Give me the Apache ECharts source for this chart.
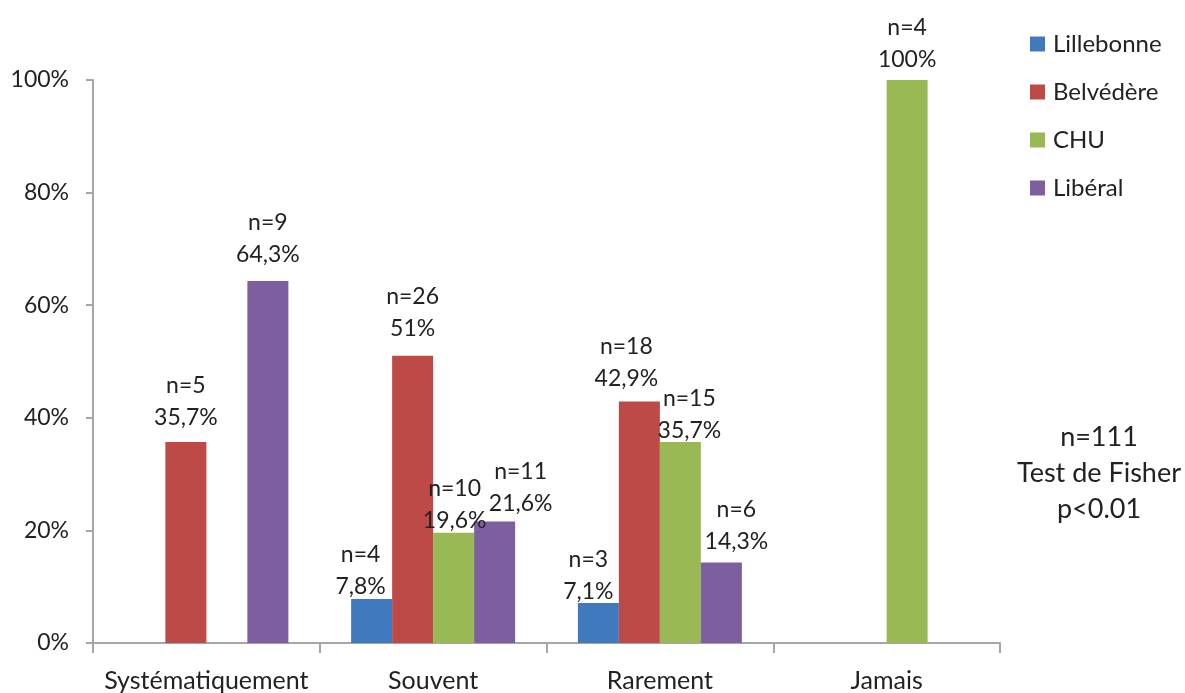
<!DOCTYPE html>
<html>
<head>
<meta charset="utf-8">
<script src="https://cdn.jsdelivr.net/npm/echarts@6/dist/echarts.min.js"></script>
<style>
html,body{margin:0;padding:0;background:#fff;}
#chart{width:1185px;height:693px;}
</style>
</head>
<body>
<div id="chart"></div>
<script>
const categories = ['Systématiquement', 'Souvent', 'Rarement', 'Jamais'];
const seriesNames = ['Lillebonne', 'Belvédère', 'CHU', 'Libéral'];
const pctLillebonne = [null, 7.8, 7.1, null];
const pctBelvedere = [35.7, 51, 42.9, null];
const pctCHU = [null, 19.6, 35.7, 100];
const pctLiberal = [64.3, 21.6, 14.3, null];
const nLillebonne = [null, 4, 3, null];
const nBelvedere = [5, 26, 18, null];
const nCHU = [null, 10, 15, 4];
const nLiberal = [9, 11, 6, null];
const yTicks = [0, 20, 40, 60, 80, 100];
const noteLines = ['n=111', 'Test de Fisher', 'p<0.01'];

// label placement tweaks (style only, as in the reference's manually moved labels)
const labelShift = {
  'Lillebonne': [null, [-11, 8], [-10, 10], null],
  'Belvédère': [[0, -3], [0, -6], [-13, -2], null],
  'CHU': [null, [1, 9], [9, 10], [0, 1]],
  'Libéral': [[0, -5], [26, 3], [15, 0], null]
};
const colors = ['#4179BE', '#BE4A47', '#98B954', '#7D5FA0'];
const FONT = 'Lato';
const FS = 23;

const pcts = [pctLillebonne, pctBelvedere, pctCHU, pctLiberal];
const ns = [nLillebonne, nBelvedere, nCHU, nLiberal];

function fmtPct(v) { return String(v).replace('.', ',') + '%'; }

const series = seriesNames.map((name, si) => ({
  name: name,
  type: 'bar',
  barWidth: 41,
  barGap: '0%',
  itemStyle: { color: colors[si] },
  data: pcts[si].map((v, ci) => {
    if (v === null) return '-';
    const sh = labelShift[name][ci] || [0, 0];
    return {
      value: v,
      label: {
        show: true,
        position: 'top',
        distance: 5,
        offset: sh,
        fontFamily: FONT,
        fontSize: FS,
        lineHeight: 32,
        color: '#222',
        formatter: 'n=' + ns[si][ci] + '\n' + fmtPct(v)
      }
    };
  })
}));

const chart = echarts.init(document.getElementById('chart'));
chart.setOption({
  animation: false,
  color: colors,
  grid: { left: 93, right: 185, top: 80, bottom: 50, containLabel: false },
  legend: {
    orient: 'vertical',
    left: 1025,
    top: 27,
    itemWidth: 15,
    itemHeight: 15,
    itemGap: 24,
    icon: 'rect',
    textStyle: { fontFamily: FONT, fontSize: 24, color: '#222', padding: [0, 0, 0, 3] },
    data: seriesNames
  },
  xAxis: {
    type: 'category',
    data: categories,
    axisLine: { lineStyle: { color: '#A6A6A6', width: 2 } },
    axisTick: { show: true, interval: 0, length: 10, lineStyle: { color: '#A6A6A6', width: 2 } },
    axisLabel: { interval: 0, fontFamily: FONT, fontSize: 25, color: '#222', margin: 25 },
    splitLine: { show: false }
  },
  yAxis: {
    type: 'value',
    min: yTicks[0],
    max: yTicks[yTicks.length - 1],
    interval: yTicks[1] - yTicks[0],
    axisLine: { show: true, lineStyle: { color: '#A6A6A6', width: 2 } },
    axisTick: { show: true, length: 7, lineStyle: { color: '#A6A6A6', width: 2 } },
    axisLabel: { fontFamily: FONT, fontSize: FS, color: '#222', margin: 24, formatter: '{value}%' },
    splitLine: { show: false }
  },
  graphic: [{
    type: 'text',
    x: 1099,
    y: 419,
    style: {
      text: noteLines.join('\n'),
      align: 'center',
      verticalAlign: 'top',
      fontFamily: FONT,
      fontSize: 27,
      lineHeight: 36,
      fill: '#222'
    }
  }],
  series: series
});
</script>
</body>
</html>
